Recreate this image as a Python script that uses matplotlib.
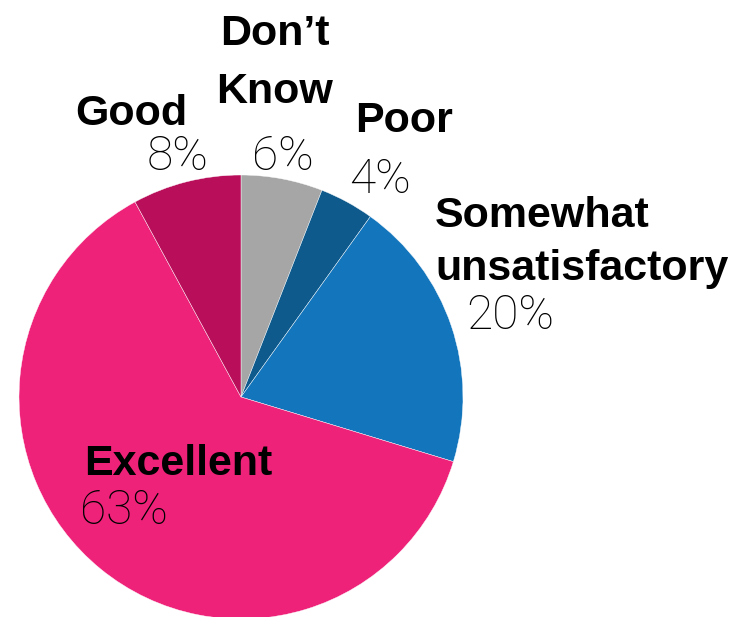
import matplotlib.pyplot as plt

# satisfaction survey shares, clockwise from 12 o'clock
categories = ["Don't Know", "Poor", "Somewhat unsatisfactory", "Excellent", "Good"]
shares = [6, 4, 20, 63, 8]
colors = ["#A6A6A6", "#0E5A8C", "#1375BC", "#EE2279", "#B90F5A"]

W, H = 756, 617
fig = plt.figure(figsize=(W / 100, H / 100), dpi=100)
ax = fig.add_axes([0, 0, 1, 1])

ax.pie(shares, colors=colors, startangle=90, counterclock=False,
       center=(241, H - 397), radius=222,
       wedgeprops=dict(edgecolor="white", linewidth=0.3))
ax.set_xlim(0, W)
ax.set_ylim(0, H)
ax.axis("off")

name_font = dict(family="Liberation Sans", weight="bold", size=31, color="black")
pct_font = dict(family="Roboto", weight="light", size=34.5, color="black")

# name lines, name x, baseline of each line, align, pct x, pct baseline (pixels from top-left)
label_spots = {
    "Don't Know": (["Don\u2019t", "Know"], 275, [45, 103], "center", 252, 170),
    "Poor": (["Poor"], 355, [132], "left", 349, 193),
    "Somewhat unsatisfactory": (["Somewhat", "unsatisfactory"], 435, [227, 280], "left", 466, 329),
    "Excellent": (["Excellent"], 84, [475], "left", 80, 524),
    "Good": (["Good"], 75, [125], "left", 147, 170),
}

for cat, val in zip(categories, shares):
    lines, nx, baselines, ha, px, py = label_spots[cat]
    for line, by in zip(lines, baselines):
        fig.text(nx / W, 1 - by / H, line, ha=ha, va="baseline", **name_font)
    fig.text(px / W, 1 - py / H, f"{val}%", ha="left", va="baseline", **pct_font)

fig.savefig("out.png", dpi=100)
